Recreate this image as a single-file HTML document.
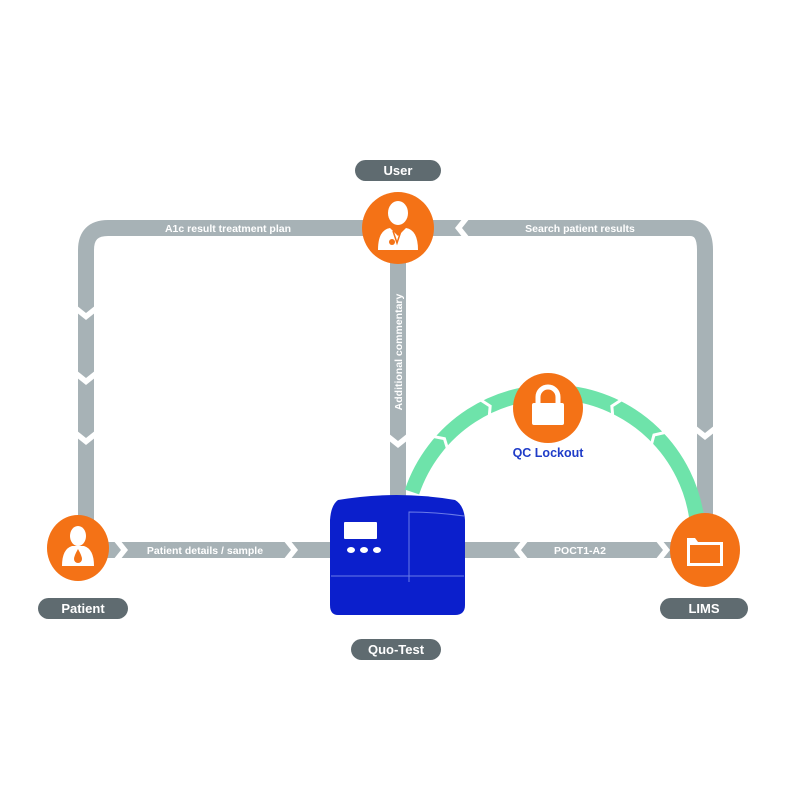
<!DOCTYPE html>
<html><head><meta charset="utf-8"><style>
html,body{margin:0;padding:0;background:#fff;width:800px;height:800px;overflow:hidden}
text{font-family:"Liberation Sans",sans-serif;font-weight:bold}
</style></head><body>
<svg width="800" height="800" viewBox="0 0 800 800" xmlns="http://www.w3.org/2000/svg">
<g fill="none" stroke="#a7b2b6" stroke-width="16">
  <path d="M86 520 V250 Q86 228 108 228 H690 Q705 228 705 250 V525"/>
  <path d="M398 250 V500"/>
  <path d="M100 550 H340"/>
  <path d="M460 550 H690"/>
</g>
<g fill="#fff">
  <polygon points="76,305 86,313 96,305 96,312 86,320 76,312"/>
  <polygon points="76,370 86,378 96,370 96,377 86,385 76,377"/>
  <polygon points="76,430 86,438 96,430 96,437 86,445 76,437"/>
  <polygon points="695,425 705,433 715,425 715,432 705,440 695,432"/>
  <polygon points="388,433 398,441 408,433 408,440 398,448 388,440"/>
  <polygon points="470,218 462,228 470,238 463,238 455,228 463,218"/>
  <polygon points="120,540 128,550 120,560 113,560 121,550 113,540"/>
  <polygon points="290,540 298,550 290,560 283,560 291,550 283,540"/>
  <polygon points="522,540 514,550 522,560 529,560 521,550 529,540"/>
  <polygon points="662,540 670,550 662,560 655,560 663,550 655,540"/>
</g>
<path d="M412 492 A147 147 0 0 1 697 520" fill="none" stroke="#6ee3aa" stroke-width="15"/>
<g fill="none" stroke="#fff" stroke-width="3">
  <polyline points="549,383 555,393 549,403" transform="rotate(-26 551 540)"/>
  <polyline points="549,383 555,393 549,403" transform="rotate(-48 551 540)"/>
  <polyline points="553,383 547,393 553,403" transform="rotate(26 551 540)"/>
  <polyline points="553,383 547,393 553,403" transform="rotate(46 551 540)"/>
</g>
<g fill="#fff" font-size="10.5">
  <text x="228" y="232" text-anchor="middle">A1c result treatment plan</text>
  <text x="580" y="232" text-anchor="middle">Search patient results</text>
  <text x="205" y="554" text-anchor="middle">Patient details / sample</text>
  <text x="580" y="554" text-anchor="middle">POCT1-A2</text>
  <text transform="translate(402,352) rotate(-90)" text-anchor="middle">Additional commentary</text>
</g>
<g fill="#5f6b70">
  <rect x="355" y="160" width="86" height="21" rx="10.5"/>
  <rect x="38" y="598" width="90" height="21" rx="10.5"/>
  <rect x="660" y="598" width="88" height="21" rx="10.5"/>
  <rect x="351" y="639" width="90" height="21" rx="10.5"/>
</g>
<g fill="#fff" font-size="13" text-anchor="middle">
  <text x="398" y="175">User</text>
  <text x="83" y="613">Patient</text>
  <text x="704" y="613">LIMS</text>
  <text x="396" y="654">Quo-Test</text>
</g>
<g fill="#f47216">
  <ellipse cx="398" cy="228" rx="36" ry="36"/>
  <ellipse cx="78" cy="548" rx="31" ry="33"/>
  <ellipse cx="705" cy="550" rx="35" ry="37"/>
  <circle cx="548" cy="408" r="35"/>
</g>
<g fill="#fff">
  <ellipse cx="398" cy="213" rx="10" ry="12"/>
  <path d="M378 250 Q378 230 390 228 L398 236 L406 228 Q418 230 418 250 Z"/>
</g>
<path d="M393 231 L397 243 L401 231" stroke="#f47216" stroke-width="1.5" fill="none"/>
<circle cx="392" cy="242" r="3" fill="#f47216"/>
<g fill="#fff">
  <ellipse cx="78" cy="536" rx="8" ry="10"/>
  <path d="M62 566 Q62 549 72 546 L84 546 Q94 549 94 566 Z"/>
</g>
<path d="M78 549 Q74 556 74 559 A4 4 0 0 0 82 559 Q82 556 78 549 Z" fill="#f47216"/>
<path d="M687 538 h8 l3 4 h25 v24 h-36 Z" fill="#fff"/>
<rect x="690" y="545" width="30" height="18" fill="#f47216"/>
<path d="M538 405 v-8 a10 10 0 0 1 20 0 v8" fill="none" stroke="#fff" stroke-width="5"/>
<rect x="532" y="403" width="32" height="22" rx="2" fill="#fff"/>
<text x="548" y="457" fill="#1f3cc8" font-size="12.5" text-anchor="middle">QC Lockout</text>
<path d="M338 500 Q397 490 455 500 Q464 505 465 520 L465 605 Q465 615 455 615 L338 615 Q330 615 330 605 L330 520 Q331 505 338 500 Z" fill="#0b1fcc"/>
<path d="M409 582 V512 Q435 512 464 516" fill="none" stroke="#6a7be8" stroke-width="1"/>
<line x1="331" y1="576" x2="464" y2="576" stroke="#6a7be8" stroke-width="1"/>
<rect x="344" y="522" width="33" height="17" rx="1" fill="#fff"/>
<g fill="#fff"><ellipse cx="351" cy="550" rx="4" ry="3"/><ellipse cx="364" cy="550" rx="4" ry="3"/><ellipse cx="377" cy="550" rx="4" ry="3"/></g>
</svg>
</body></html>
